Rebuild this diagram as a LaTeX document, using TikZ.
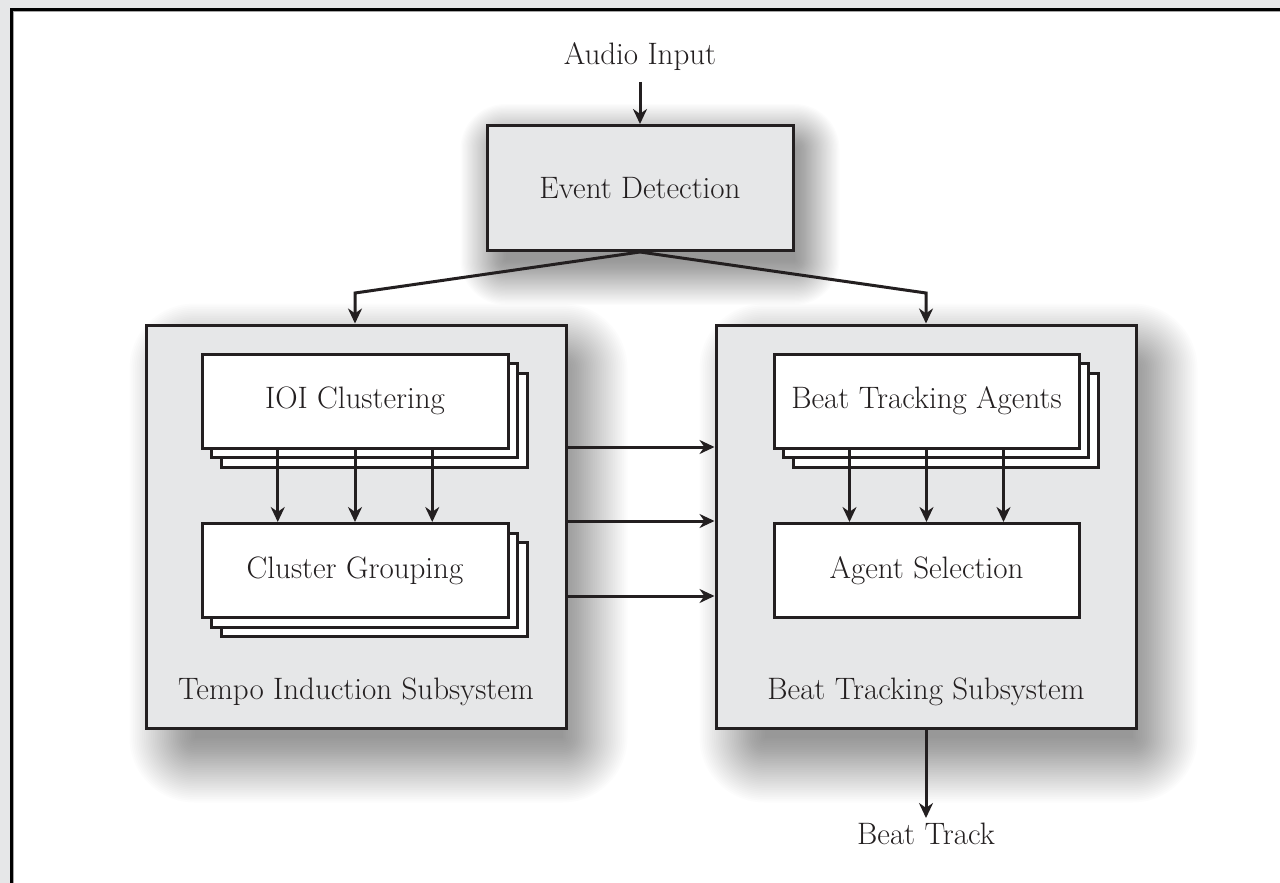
\documentclass[tikz,border=0pt]{standalone}
\usetikzlibrary{arrows.meta,calc}
\definecolor{panel}{HTML}{E6E7E8}
\definecolor{ink}{HTML}{231F20}
\pgfdeclarelayer{paper}
\pgfdeclarelayer{shade}
\pgfsetlayers{paper,shade,main}
\tikzset{
  every node/.style={font=\fontsize{31}{36}\selectfont, text=ink},
  bigbox/.style={draw=ink, line width=3pt, fill=panel, minimum width=420pt, minimum height=403pt, inner sep=0pt},
  edbox/.style={draw=ink, line width=3pt, fill=panel, minimum width=306pt, minimum height=125pt, inner sep=0pt},
  wbox/.style={draw=ink, line width=3pt, fill=white, minimum width=306pt, minimum height=94pt, inner sep=0pt},
  arr/.style={draw=ink, line width=3pt, -{Stealth[length=15pt,width=14pt]}},
  shadelayer/.style={fill=black, opacity=0.011}
}
% #1 node, #2 left inset, #3 top inset, #4 right outset, #5 bottom outset, #6 radius, #7 steps
\newcommand\softshade[7]{%
  \foreach \i in {0,...,#7}{%
    \pgfmathsetmacro\rr{#6*(1-\i/#7)}%
    \fill[shadelayer, rounded corners=\rr pt]
      ($(#1.north west)+(#2-\rr,#3-\rr)$) rectangle ($(#1.south east)+(#4+\rr,#5+\rr)$);
  }%
}
\begin{document}
\begin{tikzpicture}[x=1pt,y=-1pt]
\useasboundingbox (0,0) rectangle (1280,883);
\begin{pgfonlayer}{paper}
\fill[panel] (0,0) rectangle (1280,883);
\fill[white] (11,9) rectangle (1280,883);
\end{pgfonlayer}

% big boxes
\node[bigbox] (tis) at (356,526.5) {};
\node[bigbox] (bts) at (926,526.5) {};
\node[edbox] (ed) at (640,188) {Event Detection};

\begin{pgfonlayer}{shade}
\softshade{tis}{50}{45}{-5}{8}{65}{36}
\softshade{bts}{50}{45}{-5}{8}{65}{36}
\softshade{ed}{20}{25}{0}{8}{45}{36}
\end{pgfonlayer}

\draw[line width=2.2pt, black] (11.5,890) -- (11.5,9.5) -- (1290,9.5);
\draw[line width=0.8pt, gray!70] (13.5,890) -- (13.5,11.5) -- (1290,11.5);

% stacked boxes (left)
\node[wbox] (ioi3) at (374,420) {};
\node[wbox] (ioi2) at (364.5,410.5) {};
\node[wbox] (ioi) at (355,401) {IOI Clustering};
\node[wbox] (cg3) at (374,589.5) {};
\node[wbox] (cg2) at (364.5,580) {};
\node[wbox] (cg) at (355,570.5) {Cluster Grouping};

% stacked boxes (right)
\node[wbox, minimum width=305pt] (bta3) at (945.5,420) {};
\node[wbox, minimum width=305pt] (bta2) at (936,410.5) {};
\node[wbox, minimum width=305pt] (bta) at (926.5,401) {Beat Tracking Agents};
\node[wbox, minimum width=305pt] (as) at (926.5,570.5) {Agent Selection};

% labels
\node (til) at (356,692) {Tempo Induction Subsystem};
\node (btl) at (926,692) {Beat Tracking Subsystem};
\node (ai) at (640,57) {Audio Input};
\node (bt) at (926,834) {Beat Track};

% connectors
\coordinate (ait) at (640,82);
\draw[arr] (ait) -- (ed.north);
\coordinate (bl) at (355,293);
\coordinate (br) at (926,293);
\draw[arr] (ed.south) -- (bl) -- (bl |- tis.north);
\draw[arr] (ed.south) -- (br) -- (br |- bts.north);

\foreach \f in {0.25,0.5,0.75}{
  \draw[arr] ($(ioi.south west)!\f!(ioi.south east)$) -- ($(cg.north west)!\f!(cg.north east)$);
  \draw[arr] ($(bta.south west)!\f!(bta.south east)$) -- ($(as.north west)!\f!(as.north east)$);
}

\coordinate (h1) at (0,447);
\coordinate (h2) at (0,521);
\coordinate (h3) at (0,596);
\foreach \h in {h1,h2,h3}{
  \draw[arr] (tis.east |- \h) -- (bts.west |- \h);
}
\coordinate (btt) at (926,818);
\draw[arr] (bts.south) -- (btt);
\end{tikzpicture}
\end{document}
